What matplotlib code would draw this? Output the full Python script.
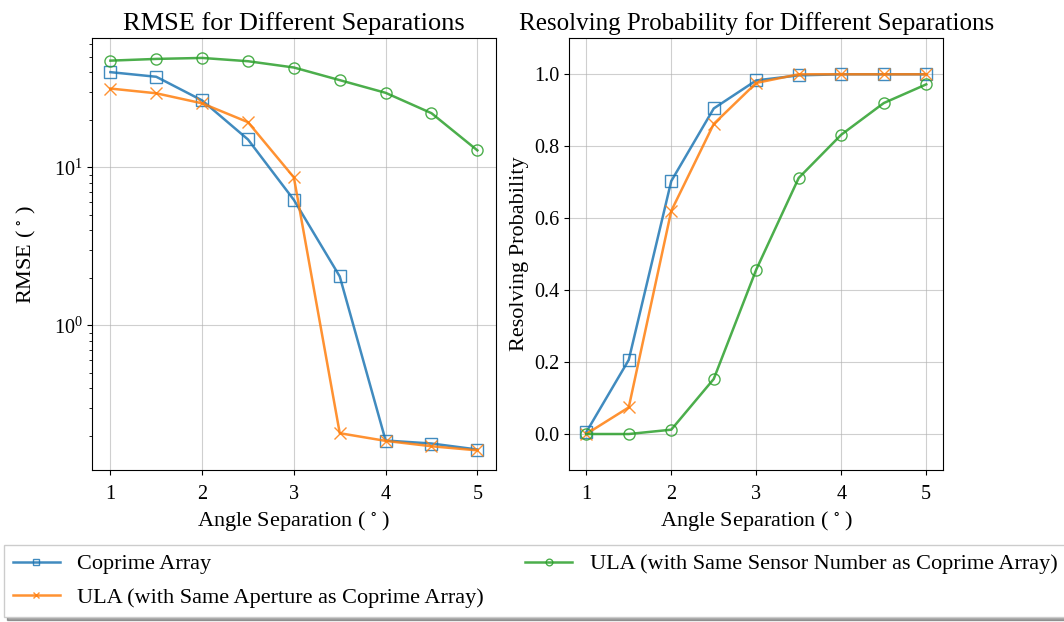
import matplotlib
matplotlib.use("Agg")
import matplotlib.pyplot as plt

plt.rcParams["font.family"] = ["Liberation Serif", "DejaVu Serif"]
plt.rcParams["mathtext.fontset"] = "stix"

separations = [1.0, 1.5, 2.0, 2.5, 3.0, 3.5, 4.0, 4.5, 5.0]

# RMSE (degrees) per angle separation
rmse_coprime = [40.0, 37.4, 26.5, 15.0, 6.22, 2.04, 0.187, 0.179, 0.164]
rmse_ula_aperture = [31.5, 29.4, 25.4, 19.3, 8.63, 0.208, 0.186, 0.172, 0.162]
rmse_ula_sensors = [47.3, 48.5, 49.2, 46.9, 42.8, 35.6, 29.6, 22.0, 12.8]

# resolving probability per angle separation
prob_coprime = [0.005, 0.206, 0.703, 0.905, 0.983, 0.997, 1.0, 1.0, 1.0]
prob_ula_aperture = [0.0, 0.074, 0.620, 0.862, 0.976, 1.0, 1.0, 1.0, 1.0]
prob_ula_sensors = [0.0, 0.0, 0.012, 0.153, 0.457, 0.712, 0.832, 0.920, 0.972]

labels = [
    "Coprime Array",
    "ULA (with Same Aperture as Coprime Array)",
    "ULA (with Same Sensor Number as Coprime Array)",
]
styles = [
    dict(color="C0", marker="s", fillstyle="none"),
    dict(color="C1", marker="x"),
    dict(color="C2", marker="o", fillstyle="none"),
]

fig = plt.figure(figsize=(10.64, 6.22), dpi=100)
ax1 = fig.add_axes([0.0865, 0.2444, 0.3794, 0.694])
ax2 = fig.add_axes([0.535, 0.2444, 0.3515, 0.694])

lines = []
for ys, lab, st in zip([rmse_coprime, rmse_ula_aperture, rmse_ula_sensors], labels, styles):
    (ln,) = ax1.plot(separations, ys, label=lab, linewidth=1.8, markersize=8, alpha=0.85, **st)
    lines.append(ln)
ax1.set_yscale("log")
ax1.set_title("RMSE for Different Separations", fontsize=19)
ax1.set_xlabel("Angle Separation ($\\,^\\circ\\,$)", fontsize=16)
ax1.set_ylabel("RMSE ($\\,^\\circ\\,$)", fontsize=16, labelpad=11)
ax1.grid(True, which="major", alpha=0.6)

for ys, lab, st in zip([prob_coprime, prob_ula_aperture, prob_ula_sensors], labels, styles):
    ax2.plot(separations, ys, label=lab, linewidth=1.8, markersize=8, alpha=0.85, **st)
ax2.set_ylim(-0.1, 1.1)
ax2.set_title("Resolving Probability for Different Separations", fontsize=18)
ax2.set_xlabel("Angle Separation ($\\,^\\circ\\,$)", fontsize=16)
ax2.set_ylabel("Resolving Probability", fontsize=16)
ax2.grid(True, alpha=0.6)

for ax in (ax1, ax2):
    ax.tick_params(labelsize=14.5)
    ax.tick_params(axis="x", pad=7)

fig.legend(
    lines, labels,
    loc="upper left", bbox_to_anchor=(0.0038, 0.124), borderaxespad=0,
    ncol=2, fontsize=16, shadow=True, fancybox=False,
    columnspacing=1.85, handlelength=2.1, markerscale=0.6, labelspacing=0.6,
)

fig.savefig("out.png", dpi=100)
